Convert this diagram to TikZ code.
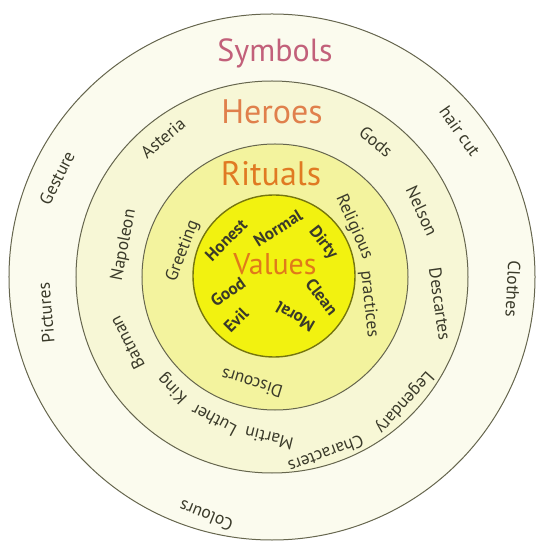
\documentclass[tikz,border=0pt]{standalone}
\usepackage{fontspec}
\setmainfont{PT Sans}

\definecolor{outerfill}{HTML}{FBFBEE}
\definecolor{heroesfill}{HTML}{F7F7D6}
\definecolor{ritualsfill}{HTML}{F3F39E}
\definecolor{valuesfill}{HTML}{F2F210}
\definecolor{ringline}{HTML}{66664E}
\definecolor{valline}{HTML}{76760E}
\definecolor{wordgray}{HTML}{3A3A2A}
\definecolor{symbolscol}{HTML}{C2607A}
\definecolor{heroescol}{HTML}{E0804C}
\definecolor{ritualscol}{HTML}{E07A22}
\definecolor{valuescol}{HTML}{E07A1A}

\tikzset{
    word/.style={font=\fontsize{17.5}{17.5}\selectfont, text=wordgray, inner sep=0pt},
    value/.style={font=\bfseries\fontsize{17}{17}\selectfont, text=wordgray, inner sep=0pt},
    title/.style={font=\fontsize{34}{34}\selectfont, inner sep=0pt},
}

\begin{document}
\begin{tikzpicture}[x=1pt, y=1pt]
    \useasboundingbox (-272,-268) rectangle (265,277);

    % the four layers, outside in
    \filldraw[fill=outerfill, draw=ringline, line width=1pt] (0,0) circle (263pt);
    \filldraw[fill=heroesfill, draw=ringline, line width=1pt] (0,0) circle (196pt);
    \filldraw[fill=ritualsfill, draw=ringline, line width=1pt] (3,0) circle (133pt);
    \filldraw[fill=valuesfill, draw=valline, line width=1.4pt] (2,1) circle (81pt);

    % layer names
    \node[title, text=symbolscol, font=\fontsize{32}{32}\selectfont] (sym) at (3,224) {Symbols};
    \node[title, text=heroescol]  (her) at (0,165) {Heroes};
    \node[title, text=ritualscol] (rit) at (-1,103) {Rituals};
    \node[title, text=valuescol, font=\fontsize{30}{30}\selectfont] (val) at (3,13) {Values};

    % symbols
    \node[word, rotate=63]  (ges) at (-215,99)  {Gesture};
    \node[word, rotate=95]  (pic) at (-226,-36) {Pictures};
    \node[word, rotate=-55] (hai) at (188,146)  {hair cut};
    \node[word, rotate=-93] (clo) at (241,-12)  {Clothes};
    \node[word, rotate=158] (col) at (-66,-239) {Colours};

    % heroes
    \node[word, rotate=40]   (ast) at (-109,139) {Asteria};
    \node[word, rotate=-40]  (god) at (104,135)  {Gods};
    \node[word, rotate=-65]  (nel) at (150,66)   {Nelson};
    \node[word, rotate=-82]  (des) at (168,-27)  {Descartes};
    \node[word, rotate=79]   (nap) at (-148,32)  {Napoleon};
    \node[word, rotate=117]  (bat) at (-145,-66) {Batman};
    \node[word, rotate=-132] (leg) at (132,-125) {Legendary};
    \node[word, rotate=-160] (cha) at (54,-177)  {Characters};
    \node[word, rotate=166]  (mar) at (-3,-161)  {Martin};
    \node[word, rotate=152]  (lut) at (-58,-143) {Luther};
    \node[word, rotate=134]  (kin) at (-99,-111) {King};

    % rituals
    \node[word, rotate=69]  (gre) at (-89,26)  {Greeting};
    \node[word, rotate=-66] (rel) at (82,50)   {Religious};
    \node[word, rotate=-84] (pra) at (97,-27)  {practices};
    \node[word, rotate=163] (dis) at (-20,-106) {Discours};

    % values
    \node[value, rotate=45]  (hon) at (-46,37)  {Honest};
    \node[value, rotate=32]  (nor) at (6,49)    {Normal};
    \node[value, rotate=-52] (dir) at (51,34)   {Dirty};
    \node[value, rotate=-52] (cle) at (50,-20)  {Clean};
    \node[value, rotate=150] (mor) at (23,-40)  {Moral};
    \node[value, rotate=35]  (goo) at (-44,-15) {Good};
    \node[value, rotate=45]  (evi) at (-36,-43) {Evil};
\end{tikzpicture}
\end{document}
